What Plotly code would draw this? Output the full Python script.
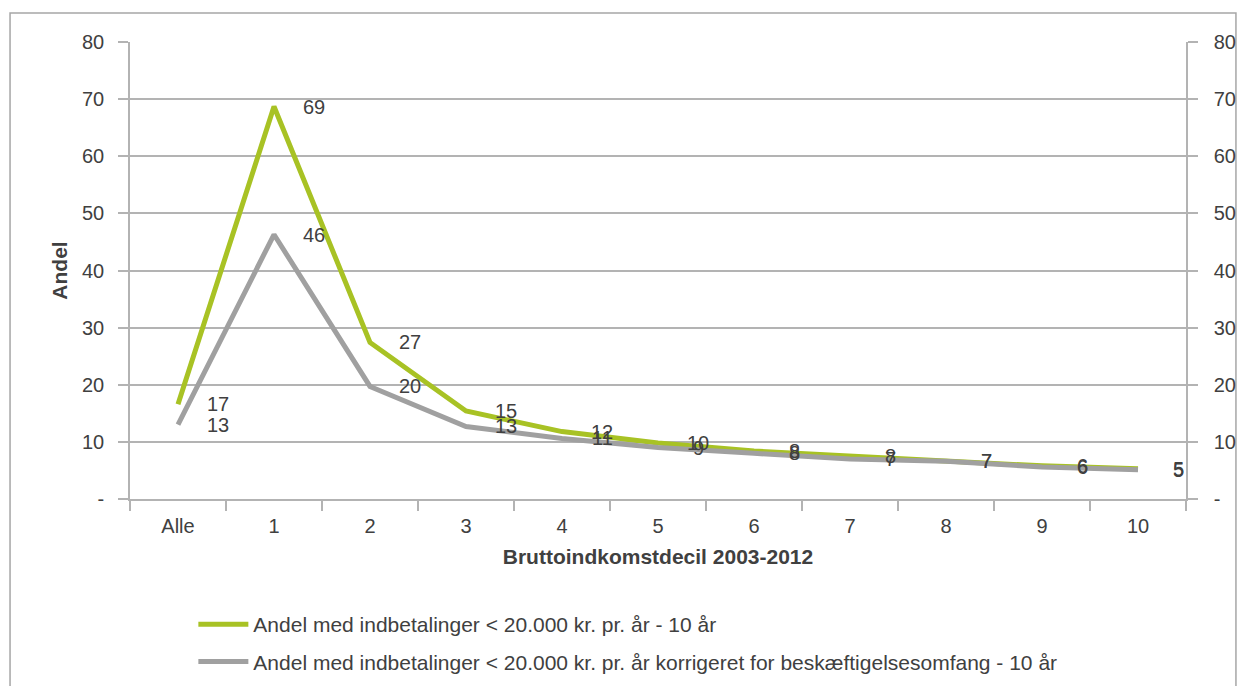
import plotly.graph_objects as go

decil = ["Alle", "1", "2", "3", "4", "5", "6", "7", "8", "9", "10"]
andel_10aar = [16.6, 68.7, 27.4, 15.4, 11.8, 9.8, 8.4, 7.6, 6.7, 5.8, 5.3]
andel_korrigeret = [13.0, 46.3, 19.7, 12.7, 10.6, 9.0, 8.0, 7.0, 6.6, 5.6, 5.1]
navn_1 = "Andel med indbetalinger < 20.000 kr. pr. år - 10 år"
navn_2 = "Andel med indbetalinger < 20.000 kr. pr. år korrigeret for beskæftigelsesomfang - 10 år"

y_ticks = [0, 10, 20, 30, 40, 50, 60, 70, 80]
y_labels = ["-", "10", "20", "30", "40", "50", "60", "70", "80"]

GREEN = "#a8c224"
GRAY = "#a0a0a0"
GRID = "#b3b3b3"
TXT = "#404040"
FONT = "Liberation Sans, Arial, sans-serif"
FS = 20
FS_TITLE = 21

fig = go.Figure()
fig.add_trace(go.Scatter(x=decil, y=andel_10aar, name=navn_1, mode="lines",
                         legendgroup="a", line=dict(color=GREEN, width=5)))
fig.add_trace(go.Scatter(x=decil, y=andel_korrigeret, name=navn_2, mode="lines",
                         legendgroup="b", line=dict(color=GRAY, width=5)))
# usynlig trace så højre akse tegnes
fig.add_trace(go.Scatter(x=decil, y=andel_10aar, yaxis="y2", mode="lines",
                         line=dict(width=0), hoverinfo="skip", showlegend=False))

# datalabels lidt til højre for punkterne
for serie in (andel_10aar, andel_korrigeret):
    for kat, v in zip(decil, serie):
        fig.add_annotation(x=kat, y=v, text=str(round(v)), showarrow=False,
                           xshift=40, font=dict(size=FS, color=TXT, family=FONT))

# ramme rundt om hele diagrammet
fig.add_shape(type="rect", xref="paper", yref="paper",
              x0=-0.1136, x1=1.0473, y0=-0.6, y1=1.0635,
              line=dict(color="#a6a6a6", width=1.5), layer="below")

axis_font = dict(size=FS, color=TXT, family=FONT)
fig.update_layout(
    width=1239, height=678,
    margin=dict(l=122, r=61, t=34, b=187, autoexpand=False),
    paper_bgcolor="white", plot_bgcolor="white",
    font=dict(family=FONT, color=TXT, size=FS),
    showlegend=True,
    legend=dict(orientation="v", x=0.06, y=-0.23, xanchor="left", yanchor="top",
                font=dict(size=21, color=TXT), itemwidth=50, tracegroupgap=7,
                bgcolor="rgba(0,0,0,0)"),
    xaxis=dict(type="category", range=[-0.5, 10.5], showgrid=False,
               ticks="outside", ticklen=10, tickcolor=GRID, tickwidth=1.5,
               tickson="boundaries", automargin=False, ticklabelstandoff=8,
               showline=True, linecolor=GRID, linewidth=1.5,
               tickfont=axis_font,
               title=dict(text="<b>Bruttoindkomstdecil 2003-2012</b>",
                          font=dict(size=FS_TITLE, color=TXT), standoff=14)),
    yaxis=dict(range=[0, 80], tickvals=y_ticks, ticktext=y_labels,
               showgrid=True, gridcolor=GRID, gridwidth=1.5,
               ticks="outside", ticklen=10, tickcolor=GRID, tickwidth=1.5,
               showline=True, linecolor=GRID, linewidth=1.5, automargin=False,
               zeroline=False, tickfont=axis_font, ticklabelstandoff=10,
               title=dict(text="<b>Andel</b>", font=dict(size=FS_TITLE, color=TXT),
                          standoff=9)),
    yaxis2=dict(range=[0, 80], tickvals=y_ticks, ticktext=y_labels,
                overlaying="y", side="right", showgrid=False, automargin=False,
                ticks="outside", ticklen=10, tickcolor=GRID, tickwidth=1.5,
                showline=True, linecolor=GRID, linewidth=1.5,
                zeroline=False, tickfont=axis_font, ticklabelstandoff=12),
)

fig.write_html("out.html")
